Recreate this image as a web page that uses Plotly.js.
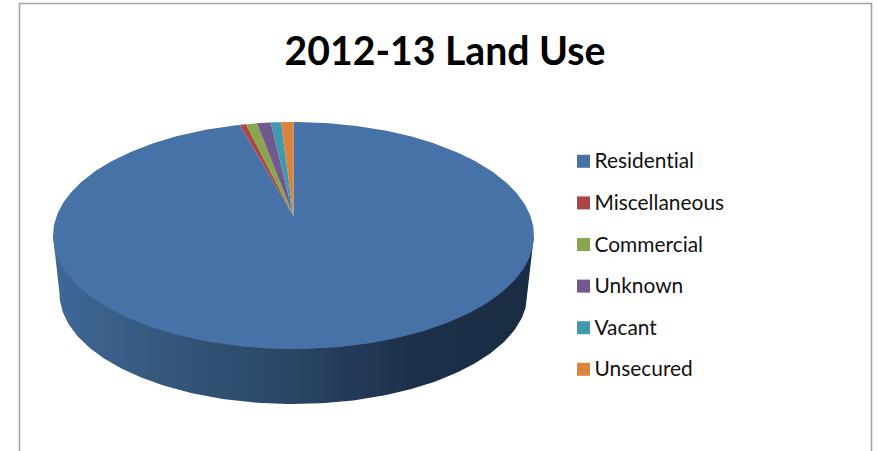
<!DOCTYPE html>
<html>
<head>
<meta charset="utf-8">
<script src="https://cdn.plot.ly/plotly-3.0.1.min.js"></script>
<style>html,body{margin:0;padding:0;background:#fff;overflow:hidden}#chart{width:879px;height:451px}
text{font-variant-ligatures:none;font-feature-settings:"liga" 0}</style>
</head>
<body>
<div id="chart"></div>
<script>
const chartTitle = "2012-13 Land Use";
const categories = ["Residential","Miscellaneous","Commercial","Unknown","Vacant","Unsecured"];
const shares = [95.73,0.50,0.88,1.10,0.81,0.98];
const sliceColors = ["#4672a8","#aa4643","#89a54e","#71588f","#4198af","#db843d"];

// Perspective projection of the pie disc onto the page
const P = {cx:293.5, topY:216, A:236.9, B:110.15, k:0.1718};
const W = {A:230.5, B:107.2, y0:274.6};
function proj(deg, g){
  const a = deg*Math.PI/180, u = Math.sin(a), v = Math.cos(a), d = 1 + P.k*v;
  return [P.cx + g.A*u/d, g.y0 - g.B*v/d];
}
const top_ = {A:P.A, B:P.B, y0:P.topY};
function range(a,b,step){const r=[];const n=Math.max(2,Math.ceil(Math.abs(b-a)/step));for(let i=0;i<=n;i++)r.push(a+(b-a)*i/n);return r;}

const traces = [];
// side wall
const edge = Math.acos(-P.k)*180/Math.PI;
const wallPts = [proj(edge,top_)].concat(range(edge,360-edge,1).map(d=>proj(d,W)),[proj(360-edge,top_)]);
traces.push({type:"scatter",mode:"lines",x:wallPts.map(p=>p[0]),y:wallPts.map(p=>p[1]),fill:"toself",
  line:{width:0},fillgradient:{type:"horizontal",colorscale:[[0,"#3f6898"],[0.25,"#345679"],[0.5,"#2a4565"],[0.75,"#1c3049"],[1,"#1a2c44"]]},
  hoverinfo:"skip",showlegend:false});
// top face
const total = shares.reduce((s,v)=>s+v,0);
let acc = 0;
categories.forEach((name,i)=>{
  const a0 = acc/total*360; acc += shares[i]; const a1 = acc/total*360;
  const pts = [[P.cx,P.topY]].concat(range(a0,a1,1).map(d=>proj(d,top_)));
  traces.push({type:"scatter",mode:"lines",name:name,x:pts.map(p=>p[0]),y:pts.map(p=>p[1]),fill:"toself",
    fillcolor:sliceColors[i],line:{width:0,color:sliceColors[i]},hoverinfo:"name",showlegend:false});
});
// legend
const legendY = categories.map((c,i)=>161.3+i*41.6);
traces.push({type:"scatter",mode:"markers",x:categories.map(()=>583.5),y:legendY,
  marker:{symbol:"square",size:13,color:sliceColors,line:{width:0}},hoverinfo:"skip",showlegend:false,cliponaxis:false});
traces.push({type:"scatter",mode:"text",x:categories.map(()=>594.5),y:legendY.map(v=>v+1.8),text:categories,textposition:"middle right",
  textfont:{family:"Lato, Carlito, sans-serif",size:20.9,color:"#111"},hoverinfo:"skip",showlegend:false,cliponaxis:false});

Plotly.newPlot("chart",traces,{
  width:879,height:451,margin:{l:0,r:0,t:0,b:0},paper_bgcolor:"#fff",plot_bgcolor:"#fff",showlegend:false,
  title:{text:"<b>"+chartTitle+"</b>",x:445/879,xanchor:"center",y:1-51/451,yanchor:"middle",
    font:{family:"Lato, Carlito, sans-serif",size:39.2,color:"#000"}},
  xaxis:{range:[0,879],visible:false,fixedrange:true},
  yaxis:{range:[451,0],visible:false,fixedrange:true},
  shapes:[{type:"path",xref:"x",yref:"y",path:"M19.5,452 V3.5 H871.5 V452",line:{color:"#a3a3a3",width:1.6}}]
},{displayModeBar:false,staticPlot:true});
</script>
</body>
</html>
